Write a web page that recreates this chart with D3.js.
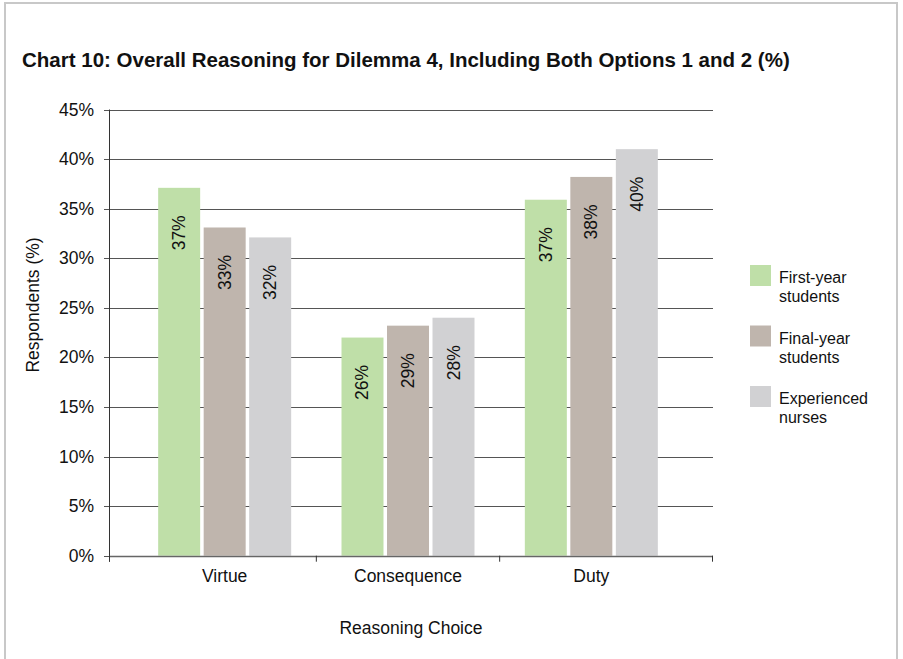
<!DOCTYPE html>
<meta charset="utf-8">
<style>
  body { margin: 0; background: #fff; }
  text { font-family: "Liberation Sans", Arial, Helvetica, sans-serif; fill: #111; }
  .grid line { stroke: #555; stroke-width: 1px; }
</style>
<body>
<div id="chart"></div>
<script src="https://d3js.org/d3.v7.min.js"></script>
<script>

// categories and series
var categories = ["Virtue", "Consequence", "Duty"];
var seriesNames = ["First-year students", "Final-year students", "Experienced nurses"];
var legendLines = [["First-year", "students"], ["Final-year", "students"], ["Experienced", "nurses"]];
var colors = ["#bfdfa8", "#bfb5ad", "#d1d1d3"];

// bar heights as drawn (%)
var firstYear = [37.1, 22.0, 35.9];
var finalYear = [33.1, 23.2, 38.2];
var experienced = [32.1, 24.0, 41.0];

// labels printed on the bars
var firstYearLabels = ["37%", "26%", "37%"];
var finalYearLabels = ["33%", "29%", "38%"];
var experiencedLabels = ["32%", "28%", "40%"];

var yTicks = [0, 5, 10, 15, 20, 25, 30, 35, 40, 45];

var values = [firstYear, finalYear, experienced];
var labels = [firstYearLabels, finalYearLabels, experiencedLabels];

var width = 903, height = 659;
var axisLeft = 109, axisRight = 713;
var fs = "17.5px";

var svg = d3.select("#chart").append("svg")
  .attr("width", width)
  .attr("height", height);

// frame
svg.append("rect")
  .attr("x", 5).attr("y", 3)
  .attr("width", 892).attr("height", 700)
  .attr("fill", "none")
  .attr("stroke", "#c8c8c8")
  .attr("stroke-width", 2);

// title
svg.append("text")
  .attr("x", 22).attr("y", 67)
  .attr("font-size", "20.5px")
  .attr("font-weight", "bold")
  .text("Chart 10: Overall Reasoning for Dilemma 4, Including Both Options 1 and 2 (%)");

// scales
var y = d3.scaleLinear().domain([0, 45]).range([555.7, 109.5]);
var x = d3.scaleBand().domain(categories).range([133, 683]);
var groupWidth = 133;
var xSub = d3.scaleBand().domain(d3.range(seriesNames.length))
  .range([0, groupWidth]).paddingInner(0.077);

// gridlines + y ticks
var grid = svg.append("g").attr("class", "grid");
grid.selectAll("line").data(yTicks).enter().append("line")
  .attr("x1", axisLeft - 5).attr("x2", axisRight)
  .attr("y1", function (d) { return Math.round(y(d)) + 0.5; })
  .attr("y2", function (d) { return Math.round(y(d)) + 0.5; });

svg.append("g").selectAll("text").data(yTicks).enter().append("text")
  .attr("x", 94)
  .attr("y", function (d) { return y(d) + 6; })
  .attr("text-anchor", "end")
  .attr("font-size", fs)
  .text(function (d) { return d + "%"; });

// bars
categories.forEach(function (cat, i) {
  var gx = x(cat) + (x.bandwidth() - groupWidth) / 2;
  values.forEach(function (vals, s) {
    var bx = gx + xSub(s);
    svg.append("rect")
      .attr("x", bx)
      .attr("y", y(vals[i]))
      .attr("width", xSub.bandwidth())
      .attr("height", y(0) - y(vals[i]))
      .attr("fill", colors[s]);
    var cx = bx + xSub.bandwidth() / 2, cy = y(vals[i]) + 45;
    svg.append("text")
      .attr("transform", "translate(" + (cx + 6) + "," + cy + ") rotate(-90)")
      .attr("text-anchor", "middle")
      .attr("font-size", fs)
      .text(labels[s][i]);
  });
});

// axes
svg.append("line")
  .attr("x1", axisLeft + 0.5).attr("x2", axisLeft + 0.5)
  .attr("y1", y(45)).attr("y2", y(0) + 6)
  .attr("stroke", "#333");
svg.append("line")
  .attr("x1", axisLeft).attr("x2", axisRight)
  .attr("y1", Math.round(y(0)) + 0.5).attr("y2", Math.round(y(0)) + 0.5)
  .attr("stroke", "#666").attr("stroke-width", 1.5);

var xTickPos = [axisLeft + 0.5].concat(categories.slice(1).map(function (c) { return x(c); }), [axisRight - 0.5]);
svg.append("g").selectAll("line").data(xTickPos).enter().append("line")
  .attr("x1", function (d) { return d; }).attr("x2", function (d) { return d; })
  .attr("y1", y(0)).attr("y2", y(0) + 6)
  .attr("stroke", "#333");

svg.append("g").selectAll("text").data(categories).enter().append("text")
  .attr("x", function (d) { return x(d) + x.bandwidth() / 2; })
  .attr("y", 582)
  .attr("text-anchor", "middle")
  .attr("font-size", fs)
  .text(function (d) { return d; });

// axis titles
svg.append("text")
  .attr("x", 411).attr("y", 634)
  .attr("text-anchor", "middle")
  .attr("font-size", fs)
  .text("Reasoning Choice");

svg.append("text")
  .attr("transform", "translate(39,305) rotate(-90)")
  .attr("text-anchor", "middle")
  .attr("font-size", fs)
  .text("Respondents (%)");

// legend
var legend = svg.append("g").selectAll("g").data(seriesNames).enter().append("g")
  .attr("transform", function (d, i) { return "translate(750," + (265 + i * 60.5) + ")"; });
legend.append("rect")
  .attr("width", 21).attr("height", 21)
  .attr("fill", function (d, i) { return colors[i]; });
legend.append("text")
  .attr("x", 29).attr("y", 18)
  .attr("font-size", "16px")
  .text(function (d, i) { return legendLines[i][0]; });
legend.append("text")
  .attr("x", 29).attr("y", 37)
  .attr("font-size", "16px")
  .text(function (d, i) { return legendLines[i][1]; });

</script>
</body>
